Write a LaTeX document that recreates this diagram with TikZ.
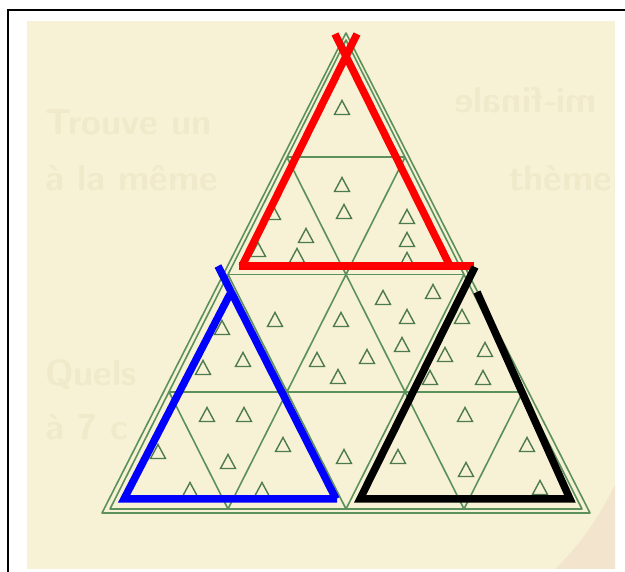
\documentclass[tikz,border=0pt]{standalone}
\usepackage{tikz}
\usetikzlibrary{calc}
\definecolor{paper}{RGB}{247,241,213}
\definecolor{gridgreen}{RGB}{92,145,92}
\definecolor{ghost}{RGB}{240,233,202}
\definecolor{peach}{RGB}{243,228,205}
\begin{document}
\begin{tikzpicture}[
    x=1pt, y=-1pt,
    grid/.style={draw=gridgreen, line width=1.6pt, line join=round},
    tri/.style={draw=gridgreen!85!black, line width=1.4pt, line join=miter},
    pen/.style={draw=#1, line width=7.5pt},
    ghosttext/.style={text=ghost, font=\sffamily\bfseries\fontsize{36}{36}\selectfont, anchor=west, inner sep=0pt},
]
    \useasboundingbox (0,0) rectangle (625,572);
    % frame and photo
    \draw[line width=1.2pt] (8,572) -- (8,10) -- (625,10);
    \fill[paper] (27,21) rectangle (615,569);
    \fill[peach] (615,485) .. controls (595,525) and (575,550) .. (555,569) -- (615,569) -- cycle;

    % faint print from the page
    \node[ghosttext] (t1) at (45,122) {Trouve un};
    \node[ghosttext] (t2) at (45,178) {à la même};
    \node[ghosttext, anchor=east] (t3) at (612,178) {thème};
    \node[ghosttext] (t4) at (45,375) {Quels};
    \node[ghosttext] (t5) at (45,427) {à 7 c};
    \node[ghosttext, xscale=-1, anchor=east] (t6) at (455,100) {mi-finale};

    % lattice points, row r, position k
    \foreach \r in {0,...,4}{
        \foreach \k in {0,...,\r}{
            \coordinate (p\r\k) at ({346-59*\r+118*\k},{40+117.25*\r});
        }
    }

    % outer double edge
    \draw[grid] (346,33) -- (102,513) -- (590,513) -- cycle;
    \draw[grid] (p00) -- (p40) -- (p44) -- cycle;

    % inner lattice
    \draw[grid] (p10) -- (p11);
    \draw[grid] (p20) -- (p22);
    \draw[grid] (p30) -- (p33);
    \draw[grid] (p41) -- (p11);
    \draw[grid] (p42) -- (p22);
    \draw[grid] (p43) -- (p33);
    \draw[grid] (p43) -- (p10);
    \draw[grid] (p42) -- (p20);
    \draw[grid] (p41) -- (p30);

    % small triangles
    \foreach \x/\y in {342/108, 342/185, 344/212, 273/213, 306/236, 258/250, 297/256, 407/217, 407/240, 407/260,
        222/328, 275/320, 243/360, 203/368, 207/415, 244/415, 158/452, 283/445, 228/462, 190/490, 262/490,
        341/320, 317/360, 338/377, 344/457,
        383/298, 433/292, 407/317, 462/317, 402/345, 367/357, 445/355, 485/350, 430/378, 483/378,
        465/415, 398/457, 527/445, 466/470, 540/488}{
        \draw[tri] (\x,\y) ++(-7.5,6.5) -- ++(7.5,-14) -- ++(7.5,14) -- cycle;
    }

    % red
    \coordinate (rl) at (242,266);
    \coordinate (rr) at (450,266);
    \draw[pen=red] (rl) -- (357,34);
    \draw[pen=red] (rr) -- (335,34);
    \draw[pen=red] (239,266) -- (474,266);

    % blue
    \draw[pen=blue] (218,266) -- (336,499);
    \draw[pen=blue] (230,294) -- (124,499) -- (337,499);

    % black
    \draw[pen=black] (475,267) -- (360,499) -- (570,499) -- (477,292);
\end{tikzpicture}
\end{document}
